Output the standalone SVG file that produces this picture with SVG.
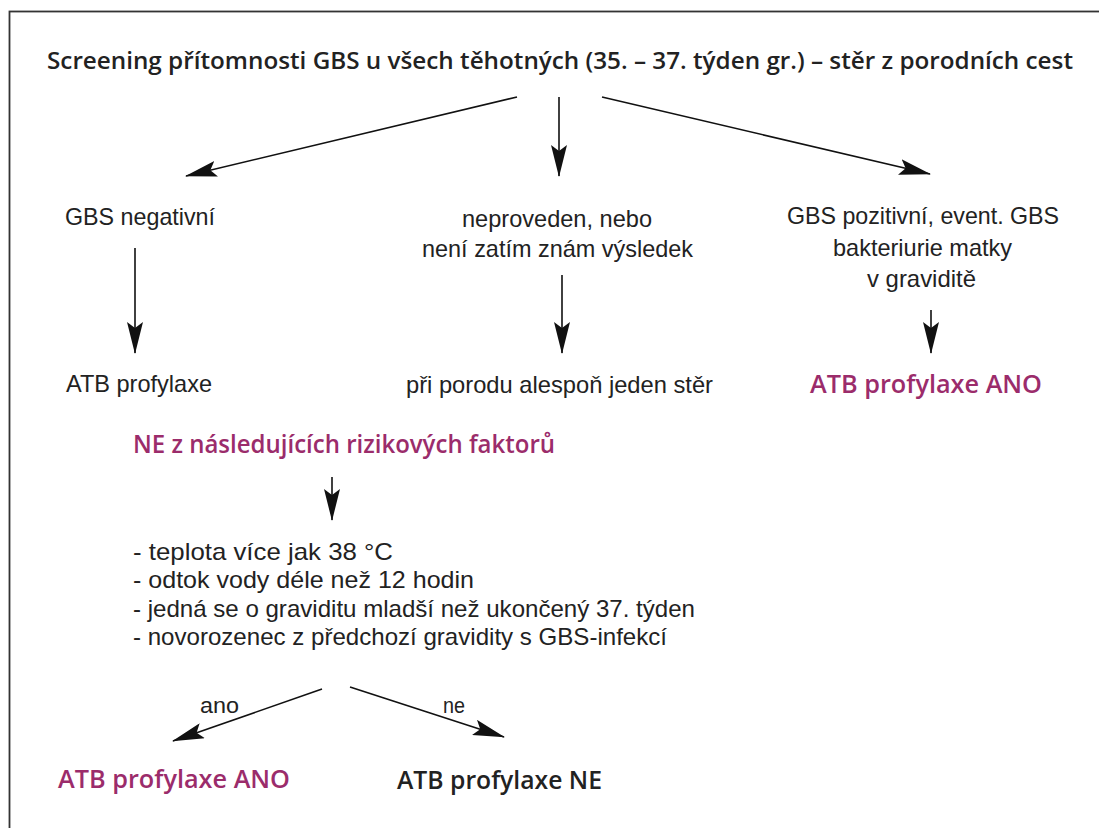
<svg xmlns="http://www.w3.org/2000/svg" width="1099" height="828" viewBox="0 0 1099 828">
<style>
  text { font-family: "Liberation Sans", "Open Sans", sans-serif; fill: #222; }
  .t { font-size: 24px; font-weight: 400; }
  .h { font-family: "Open Sans", "Liberation Sans", sans-serif; font-size: 23.5px; font-weight: 600; }
  .m { font-family: "Open Sans", "Liberation Sans", sans-serif; font-size: 25px; font-weight: 600; fill: #9b2c6b; }
  .b { font-family: "Open Sans", "Liberation Sans", sans-serif; font-size: 25px; font-weight: 600; }
  .s { font-size: 22px; font-weight: 400; }
  .c { stroke: #111; stroke-width: 1.6; fill: none; marker-end: url(#ah); }
</style>
<defs>
  <marker id="ah" viewBox="0 0 32 16" refX="31" refY="8" markerWidth="32" markerHeight="16" markerUnits="userSpaceOnUse" orient="auto">
    <path d="M0,0 L32,8 L0,16 L6,8 Z" fill="#111"/>
  </marker>
</defs>
<rect x="9.5" y="11.5" width="1100" height="830" fill="#fff" stroke="#333" stroke-width="1.8"/>

<g id="title"><text class="h" x="47" y="69" textLength="1026" lengthAdjust="spacingAndGlyphs">Screening přítomnosti GBS u všech těhotných (35. – 37. týden gr.) – stěr z porodních cest</text></g>

<g id="gbs-neg"><text class="t" x="65" y="225" textLength="150" lengthAdjust="spacingAndGlyphs">GBS negativní</text></g>

<g id="neproveden">
  <text class="t" x="462" y="227" textLength="190" lengthAdjust="spacingAndGlyphs">neproveden, nebo</text>
  <text class="t" x="422" y="257" textLength="271" lengthAdjust="spacingAndGlyphs">není zatím znám výsledek</text>
</g>

<g id="gbs-poz">
  <text class="t" x="787" y="224" textLength="272" lengthAdjust="spacingAndGlyphs">GBS pozitivní, event. GBS</text>
  <text class="t" x="833" y="256" textLength="179" lengthAdjust="spacingAndGlyphs">bakteriurie matky</text>
  <text class="t" x="867" y="287" textLength="109" lengthAdjust="spacingAndGlyphs">v graviditě</text>
</g>

<g id="atb-prof"><text class="t" x="66" y="392" textLength="146" lengthAdjust="spacingAndGlyphs">ATB profylaxe</text></g>

<g id="pri-porodu"><text class="t" x="406" y="393" textLength="307" lengthAdjust="spacingAndGlyphs">při porodu alespoň jeden stěr</text></g>

<g id="atb-ano-right"><text class="m" x="810" y="393" textLength="232" lengthAdjust="spacingAndGlyphs">ATB profylaxe ANO</text></g>

<g id="ne-rizik"><text class="m" x="133" y="453" textLength="422" lengthAdjust="spacingAndGlyphs">NE z následujících rizikových faktorů</text></g>

<g id="rizika">
  <text class="t" x="133" y="560" textLength="260" lengthAdjust="spacingAndGlyphs">- teplota více jak 38 °C</text>
  <text class="t" x="133" y="588" textLength="341" lengthAdjust="spacingAndGlyphs">- odtok vody déle než 12 hodin</text>
  <text class="t" x="133" y="617" textLength="562" lengthAdjust="spacingAndGlyphs">- jedná se o graviditu mladší než ukončený 37. týden</text>
  <text class="t" x="133" y="645" textLength="534" lengthAdjust="spacingAndGlyphs">- novorozenec z předchozí gravidity s GBS-infekcí</text>
</g>

<g id="atb-ano-bottom"><text class="m" x="58" y="788" textLength="232" lengthAdjust="spacingAndGlyphs">ATB profylaxe ANO</text></g>

<g id="atb-ne"><text class="b" x="397" y="789" textLength="205" lengthAdjust="spacingAndGlyphs">ATB profylaxe NE</text></g>

<g id="connectors">
  <line class="c" x1="517" y1="97" x2="186" y2="176"/>
  <line class="c" x1="559" y1="97" x2="559" y2="176"/>
  <line class="c" x1="602" y1="97" x2="930" y2="174"/>
  <line class="c" x1="135" y1="248" x2="135" y2="353"/>
  <line class="c" x1="562" y1="275" x2="562" y2="353"/>
  <line class="c" x1="931" y1="310" x2="931" y2="353"/>
  <line class="c" x1="332" y1="477" x2="332" y2="520"/>
  <line class="c" x1="322" y1="689" x2="173" y2="741"/>
  <line class="c" x1="350" y1="687" x2="504" y2="737"/>
  <text class="s" x="200" y="713" textLength="39" lengthAdjust="spacingAndGlyphs">ano</text>
  <text class="s" x="443" y="713" textLength="22" lengthAdjust="spacingAndGlyphs">ne</text>
</g>
</svg>
